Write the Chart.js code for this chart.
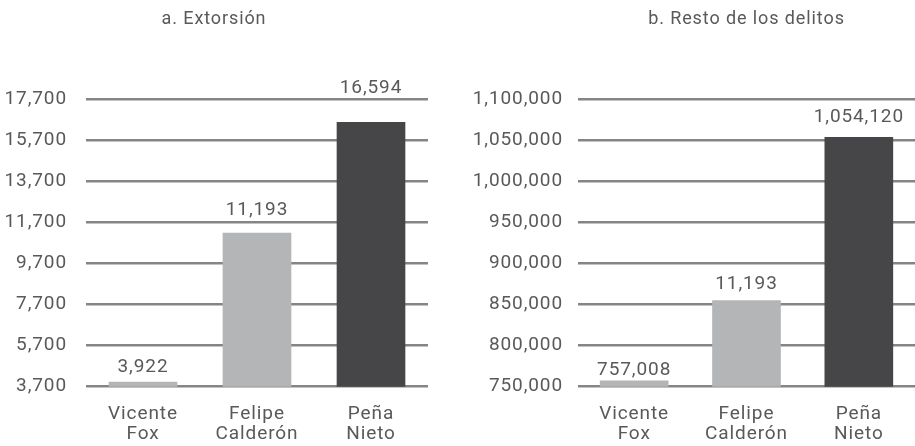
<!DOCTYPE html>
<html>
<head>
<meta charset="utf-8">
<script src="https://cdn.jsdelivr.net/npm/chart.js@4"></script>
<style>
  body { margin: 0; background: #fff; }
  #wrap { position: relative; width: 915px; height: 446px; }
  #left { position: absolute; left: 0; top: 0; }
  #right { position: absolute; left: 460px; top: 0; }
</style>
</head>
<body>
<div id="wrap">
  <canvas id="left" width="445" height="446"></canvas>
  <canvas id="right" width="455" height="446"></canvas>
</div>
<script>
// categories (two-line labels)
const presidents = [['Vicente', 'Fox'], ['Felipe', 'Calderón'], ['Peña', 'Nieto']];

// a. Extorsión
const extorsionValues = [3922, 11193, 16594];
const extorsionLabels = ['3,922', '11,193', '16,594'];
const extorsionTicks = [3700, 5700, 7700, 9700, 11700, 13700, 15700, 17700];

// b. Resto de los delitos (middle label is printed as in the original)
const restoValues = [757008, 855000, 1054120];
const restoLabels = ['757,008', '11,193', '1,054,120'];
const restoTicks = [750000, 800000, 850000, 900000, 950000, 1000000, 1050000, 1100000];

const barColors = ['#b4b5b7', '#b4b5b7', '#464648'];
const textColor = '#58595b';
const gridColor = '#858585';
const fontFamily = 'Roboto, "Open Sans", sans-serif';

Chart.defaults.font.family = fontFamily;
Chart.defaults.color = textColor;

// the original type is a bit more loosely spaced
const tracking = {
  id: 'tracking',
  beforeDraw(chart) { chart.ctx.letterSpacing = '0.9px'; }
};

// draws the number over each bar
const barLabels = {
  id: 'barLabels',
  afterDatasetsDraw(chart, args, opts) {
    const ctx = chart.ctx;
    const bars = chart.getDatasetMeta(0).data;
    ctx.save();
    ctx.font = '19px ' + fontFamily;
    ctx.fillStyle = textColor;
    ctx.textAlign = 'center';
    ctx.textBaseline = 'alphabetic';
    bars.forEach((bar, i) => {
      ctx.fillText(opts.texts[i], bar.x, bar.y - opts.offsets[i]);
    });
    ctx.restore();
  }
};

function makeChart(id, title, values, labels, ticks, cfg) {
  const ctx = document.getElementById(id).getContext('2d');
  return new Chart(ctx, {
    type: 'bar',
    data: {
      labels: presidents,
      datasets: [{
        data: values,
        backgroundColor: barColors,
        borderWidth: 0,
        barThickness: 68
      }]
    },
    options: {
      responsive: false,
      animation: false,
      devicePixelRatio: 1,
      layout: { padding: { left: 0, right: cfg.rightPad, top: 0, bottom: 0 } },
      plugins: {
        legend: { display: false },
        tooltip: { enabled: false },
        title: {
          display: true,
          text: title,
          fullSize: cfg.titleFull,
          color: textColor,
          font: { size: 18, weight: 'normal' },
          padding: { top: 9, bottom: 69 }
        },
        barLabels: { texts: labels, offsets: cfg.labelOffsets }
      },
      scales: {
        x: {
          grid: { display: false, drawTicks: false },
          border: { display: false },
          ticks: {
            color: textColor,
            font: { size: 19, lineHeight: 1.05 },
            padding: 18,
            maxRotation: 0
          },
          afterFit: s => { s.height = 59.3; }
        },
        y: {
          min: ticks[0],
          max: ticks[ticks.length - 1],
          afterBuildTicks: s => { s.ticks = ticks.map(v => ({ value: v })); },
          grid: { color: gridColor, lineWidth: 2.6, drawTicks: false },
          border: { display: false },
          ticks: {
            color: textColor,
            font: { size: 19 },
            padding: cfg.tickPad,
            callback: v => v.toLocaleString('en-US')
          },
          afterFit: s => { s.width = cfg.axisWidth; }
        }
      }
    },
    plugins: [tracking, barLabels]
  });
}

makeChart('left', 'a. Extorsión', extorsionValues, extorsionLabels, extorsionTicks, {
  axisWidth: 86, tickPad: 19, rightPad: 17, titleFull: true,
  labelOffsets: [10, 18, 29]
});

makeChart('right', 'b. Resto de los delitos', restoValues, restoLabels, restoTicks, {
  axisWidth: 118, tickPad: 15, rightPad: 0, titleFull: false,
  labelOffsets: [6, 12, 15]
});
</script>
</body>
</html>
